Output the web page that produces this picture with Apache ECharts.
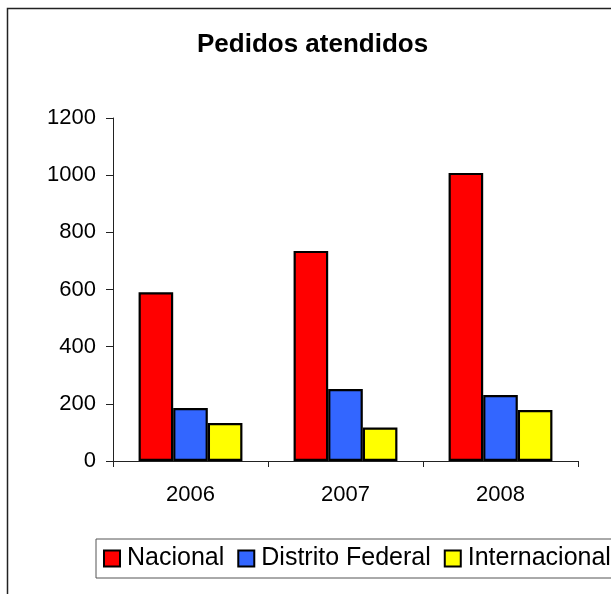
<!DOCTYPE html>
<html>
<head>
<meta charset="utf-8">
<script src="https://cdn.jsdelivr.net/npm/echarts@6/dist/echarts.min.js"></script>
<style>html,body{margin:0;padding:0;background:#fff;}#c{width:611px;height:594px;}</style>
</head>
<body>
<div id="c"></div>
<script>
var categories = ['2006', '2007', '2008'];
var nacional = [590, 735, 1008];
var distritoFederal = [185, 252, 231];
var internacional = [133, 117, 178];
var yTicks = { min: 0, max: 1200, interval: 200 };

var chart = echarts.init(document.getElementById('c'), null, { renderer: 'canvas' });
var font = 'Liberation Sans, Arial, sans-serif';
var barBorder = { borderColor: '#000', borderWidth: 2.2 };
chart.setOption({
  animation: false,
  backgroundColor: '#fff',
  textStyle: { fontFamily: font },
  title: {
    text: 'Pedidos atendidos',
    left: 197, top: 32,
    padding: 0,
    textStyle: { fontFamily: font, fontSize: 26, fontWeight: 'bold', color: '#000' }
  },
  graphic: [{
    type: 'rect', silent: true, z: -1,
    shape: { x: 7.5, y: 8.5, width: 700, height: 700 },
    style: { fill: null, stroke: '#222', lineWidth: 1.5 }
  }],
  legend: {
    left: 96, top: 539, width: 600,
    padding: [7, 40, 7, 7],
    itemWidth: 16, itemHeight: 16, itemGap: 13,
    borderColor: '#555', borderWidth: 1,
    icon: 'rect',
    textStyle: { fontFamily: font, fontSize: 25, color: '#000', padding: [0, 0, 0, 2] },
    data: ['Nacional', 'Distrito Federal', 'Internacional']
  },
  grid: { left: 113, right: 33, top: 118, bottom: 133, containLabel: false },
  xAxis: {
    type: 'category', data: categories,
    axisLine: { lineStyle: { color: '#222', width: 1 } },
    axisTick: { show: true, length: 6, lineStyle: { color: '#222' } },
    axisLabel: { fontFamily: font, fontSize: 22, color: '#000', margin: 23 }
  },
  yAxis: {
    type: 'value', min: yTicks.min, max: yTicks.max, interval: yTicks.interval,
    splitLine: { show: false },
    axisLine: { show: true, lineStyle: { color: '#222', width: 1 } },
    axisTick: { show: true, length: 7, lineStyle: { color: '#222' } },
    axisLabel: { fontFamily: font, fontSize: 22, color: '#000', margin: 17,
      formatter: function (v) { return String(v); } }
  },
  series: [
    { name: 'Nacional', type: 'bar', data: nacional, barGap: '0%', barCategoryGap: '33%',
      itemStyle: Object.assign({ color: '#FF0000' }, barBorder) },
    { name: 'Distrito Federal', type: 'bar', data: distritoFederal,
      itemStyle: Object.assign({ color: '#3366FF' }, barBorder) },
    { name: 'Internacional', type: 'bar', data: internacional,
      itemStyle: Object.assign({ color: '#FFFF00' }, barBorder) }
  ]
});
</script>
</body>
</html>
